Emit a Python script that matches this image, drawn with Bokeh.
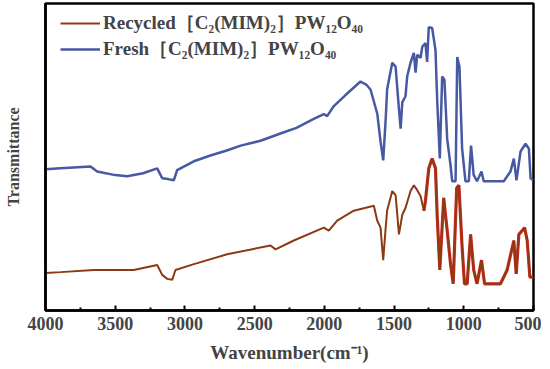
from bokeh.plotting import figure
from bokeh.models import Range1d, Legend, LegendItem, FixedTicker
from bokeh.embed import file_html
from bokeh.resources import INLINE

# wavenumbers (cm-1) and transmittance (a.u.)
fresh_wn = [4000, 3892, 3677, 3629, 3500, 3414, 3300, 3199, 3163, 3120, 3080, 3056, 2936, 2817, 2700, 2600,
            2458, 2300, 2200, 2076, 2004, 1980, 1932, 1850, 1741, 1700, 1669, 1620, 1597, 1578, 1560, 1550,
            1513, 1489, 1465, 1453, 1441, 1418, 1406, 1382, 1358, 1346, 1334, 1310, 1298, 1275, 1263, 1251,
            1227, 1203, 1191, 1172, 1155, 1139, 1119, 1095, 1083, 1059, 1047, 1031, 1012, 988, 964, 948,
            929, 905, 873, 857, 713, 665, 641, 622, 593, 557, 533, 521, 502]
fresh_px = [171, 170, 168, 173, 177, 178, 175, 170, 180, 181, 182, 172, 163, 157, 152, 147,
            142, 134, 129, 120, 115, 117, 107, 96, 82, 85, 90, 115, 143, 162, 120, 90,
            63, 67, 110, 130, 103, 97, 77, 63, 53, 73, 55, 58, 47, 43, 62, 27,
            28, 50, 100, 160, 77, 80, 140, 167, 183, 183, 57, 67, 150, 183, 183, 147,
            177, 183, 173, 183, 183, 173, 160, 182, 153, 145, 150, 180, 182]

recycled_wn = [4000, 3892, 3653, 3367, 3199, 3163, 3127, 3091, 3068, 2936, 2697, 2386, 2350, 2219, 2004, 1968,
               1908, 1789, 1645, 1621, 1597, 1578, 1560, 1550, 1513, 1489, 1465, 1441, 1418, 1382, 1358, 1334,
               1310, 1286, 1275, 1251, 1227, 1203, 1191, 1172, 1144, 1119, 1095, 1076, 1051, 1035, 1012, 995,
               976, 951, 929, 905, 873, 851, 737, 689, 641, 624, 605, 581, 564, 545, 526, 509, 500]
recycled_px = [276, 275, 273, 273, 268, 278, 282, 283, 273, 267, 257, 248, 252, 243, 230, 233,
               223, 213, 208, 223, 230, 263, 230, 213, 193, 197, 237, 217, 210, 193, 187, 192,
               198, 213, 203, 170, 160, 170, 217, 273, 200, 233, 267, 287, 190, 187, 250, 287,
               287, 237, 273, 287, 263, 287, 287, 273, 243, 277, 237, 233, 230, 243, 280, 280, 281]

fresh_t = [round((314 - v) / 3.11, 1) for v in fresh_px]
recycled_t = [round((314 - v) / 3.11, 1) for v in recycled_px]

x_ticks = [4000, 3500, 3000, 2500, 2000, 1500, 1000, 500]
x_minor = [3750, 3250, 2750, 2250, 1750, 1250, 750]
labels = ["Recycled\uFF3BC\u2082(MIM)\u2082\uFF3DPW\u2081\u2082O\u2084\u2080",
          "Fresh\uFF3BC\u2082(MIM)\u2082\uFF3DPW\u2081\u2082O\u2084\u2080"]

FONT = "Liberation Serif"

p = figure(width=541, height=365, output_backend="svg", toolbar_location=None,
           x_range=Range1d(4000, 500), y_range=Range1d(0, 100),
           min_border_left=45, min_border_right=8, min_border_top=3, min_border_bottom=51)

brown = "#8B3A12"
blue = "#4759A2"
red = "#DA1212"

sub_wn = [w for w in recycled_wn if w <= 1300]
sub_t = [t for w, t in zip(recycled_wn, recycled_t) if w <= 1300]
p.line(sub_wn, sub_t, line_color=red, line_width=3.2, line_alpha=0.9)
r_rec = p.line(recycled_wn, recycled_t, line_color=brown, line_width=2.0)
r_fresh = p.line(fresh_wn, fresh_t, line_color=blue, line_width=2.5)

legend = Legend(items=[LegendItem(label=labels[0], renderers=[r_rec]),
                       LegendItem(label=labels[1], renderers=[r_fresh])],
                location=(15, 248), padding=0, margin=0, spacing=0,
                glyph_width=40, glyph_height=20, label_height=20, label_standoff=3,
                label_text_font=FONT, label_text_font_style="bold", label_text_font_size="19px",
                background_fill_alpha=0, border_line_color=None)
p.add_layout(legend)

p.grid.visible = False
p.outline_line_color = "black"
p.outline_line_width = 2.5

xa = p.xaxis[0]
xa.ticker = FixedTicker(ticks=x_ticks, minor_ticks=x_minor)
xa.major_tick_in = 5
xa.major_tick_out = 0
xa.minor_tick_in = 3
xa.minor_tick_out = 0
xa.major_tick_line_width = 2
xa.minor_tick_line_width = 2
xa.axis_line_width = 2.5
xa.major_label_text_font = FONT
xa.major_label_text_font_style = "bold"
xa.major_label_text_font_size = "18px"
xa.major_label_standoff = 6
xa.axis_label = "Wavenumber(cm\u207B\u00B9)"
xa.axis_label_text_font = FONT
xa.axis_label_text_font_style = "bold"
xa.axis_label_text_font_size = "19px"
xa.axis_label_standoff = 9

ya = p.yaxis[0]
ya.major_tick_line_color = None
ya.minor_tick_line_color = None
ya.major_label_text_color = None
ya.major_label_text_font_size = "1px"
ya.axis_line_width = 2.5
ya.axis_label = "Transmittance"
ya.axis_label_text_font = FONT
ya.axis_label_text_font_style = "bold"
ya.axis_label_text_font_size = "16px"
ya.axis_label_standoff = 18

open("out.html", "w").write(file_html(p, INLINE))
